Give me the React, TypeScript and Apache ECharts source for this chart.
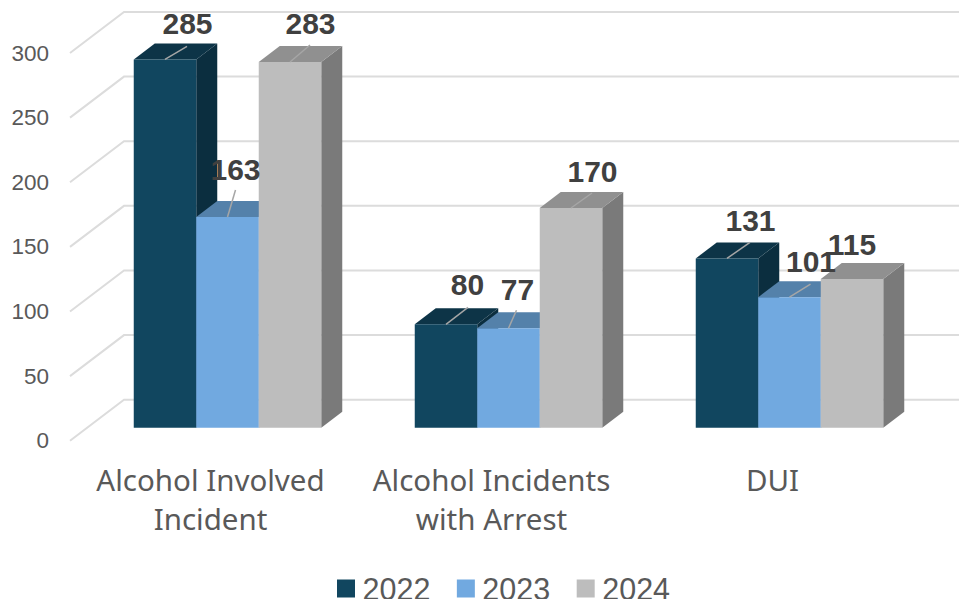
import React, { useEffect, useRef } from "react";
import * as echarts from "echarts";

const categories = ["Alcohol Involved\nIncident", "Alcohol Incidents\nwith Arrest", "DUI"];
const yearNames = ["2022", "2023", "2024"];
const values2022 = [285, 80, 131];
const values2023 = [163, 77, 101];
const values2024 = [283, 170, 115];
const yTicks = [0, 50, 100, 150, 200, 250, 300];
const valueSets = [values2022, values2023, values2024];

// face colours: front, top, side
const frontColors = ["#11465F", "#71A9E0", "#BDBDBD"];
const topColors = ["#0D3447", "#5481AA", "#909090"];
const sideColors = ["#0B2E3F", "#4A7499", "#7A7A7A"];

// label placement relative to the bar's top-front centre [dx, dy]
const labelOffsets = [
  [[22.5, -35.5], [21.5, -39.5], [23.5, -37.5]],
  [[8, -48], [9, -39], [21.5, -35.5]],
  [[20.5, -38.5], [21.5, -36.5], [0, -34.5]],
];
const leaderEnds = [
  [[22, -13], [22, -17], [23, -16]],
  [[8, -27], [8, -18], [21, -13]],
  [[20, -17], [21, -15], null],
];

const WALL_DX = 54;
const WALL_DY = -41;
const BAR_SHIFT_X = 17;
const BAR_SHIFT_Y = -13;
const BAR_W = 62.5;
const DEPTH_X = 21;
const DEPTH_Y = -16;

function barGeom(api: any, cat: number, val: number, idx: number) {
  const top = api.coord([cat, val]);
  const base = api.coord([cat, 0]);
  const l = top[0] + (idx - 1.5) * BAR_W + BAR_SHIFT_X;
  return { l, r: l + BAR_W, t: top[1] + BAR_SHIFT_Y, b: base[1] + BAR_SHIFT_Y };
}

export default function App() {
  const ref = useRef<HTMLDivElement>(null);

  useEffect(() => {
    const chart = echarts.init(ref.current!, undefined, { renderer: "svg" });

    const gridSeries: any = {
      type: "custom",
      silent: true,
      z: 1,
      data: yTicks.map((v) => [0, v]),
      encode: { x: 0, y: 1 },
      renderItem: (params: any, api: any) => {
        const v = api.value(1);
        const y = api.coord([0, v])[1];
        const sys = params.coordSys;
        return {
          type: "polyline",
          shape: {
            points: [
              [sys.x, y],
              [sys.x + WALL_DX, y + WALL_DY],
              [sys.x + sys.width + WALL_DX, y + WALL_DY],
            ],
          },
          style: { stroke: "#DCDCDC", lineWidth: 2, fill: "none" },
        };
      },
    };

    const barSeries: any[] = yearNames.map((name, idx) => ({
      type: "custom",
      name,
      silent: true,
      z: 2,
      itemStyle: { color: frontColors[idx] },
      data: valueSets[idx].map((v, i) => [i, v]),
      encode: { x: 0, y: 1 },
      renderItem: (_p: any, api: any) => {
        const g = barGeom(api, api.value(0), api.value(1), idx);
        return {
          type: "group",
          children: [
            {
              type: "polygon",
              shape: {
                points: [
                  [g.r, g.t],
                  [g.r + DEPTH_X, g.t + DEPTH_Y],
                  [g.r + DEPTH_X, g.b + DEPTH_Y],
                  [g.r, g.b],
                ],
              },
              style: { fill: sideColors[idx] },
            },
            {
              type: "polygon",
              shape: {
                points: [
                  [g.l, g.t],
                  [g.l + DEPTH_X, g.t + DEPTH_Y],
                  [g.r + DEPTH_X, g.t + DEPTH_Y],
                  [g.r, g.t],
                ],
              },
              style: { fill: topColors[idx] },
            },
            {
              type: "rect",
              shape: { x: g.l, y: g.t, width: BAR_W, height: g.b - g.t },
              style: { fill: frontColors[idx] },
            },
          ],
        };
      },
    }));

    const labelData: number[][] = [];
    valueSets.forEach((vals, idx) => vals.forEach((v, i) => labelData.push([i, v, idx])));

    const labelSeries: any = {
      type: "custom",
      silent: true,
      z: 3,
      data: labelData,
      encode: { x: 0, y: 1 },
      renderItem: (_p: any, api: any) => {
        const cat = api.value(0);
        const val = api.value(1);
        const idx = api.value(2);
        const g = barGeom(api, cat, val, idx);
        const cx = g.l + BAR_W / 2;
        const lo = labelOffsets[idx][cat];
        const le = leaderEnds[idx][cat];
        const children: any[] = [];
        if (le) {
          children.push({
            type: "line",
            shape: { x1: cx, y1: g.t, x2: cx + le[0], y2: g.t + le[1] },
            style: { stroke: "#A6A6A6", lineWidth: 1.5 },
          });
        }
        children.push({
          type: "text",
          style: {
            text: String(val),
            x: cx + lo[0],
            y: g.t + lo[1],
            align: "center",
            verticalAlign: "middle",
            font: 'bold 30px "Liberation Sans"',
            fill: "#404040",
          },
        });
        return { type: "group", children };
      },
    };

    chart.setOption({
      animation: false,
      backgroundColor: "#FFFFFF",
      grid: { left: 70, top: 53, width: 843, height: 387.7 },
      legend: {
        data: yearNames,
        left: 337,
        top: 573,
        padding: 0,
        icon: "rect",
        itemWidth: 18,
        itemHeight: 18,
        itemGap: 26.5,
        selectedMode: false,
        textStyle: {
          fontFamily: "Liberation Sans",
          fontSize: 30.5,
          color: "#595959",
          padding: [0, 0, 0, 2.5],
        },
      },
      xAxis: {
        type: "category",
        data: categories,
        axisLine: { show: false },
        axisTick: { show: false },
        axisLabel: {
          fontFamily: "Noto Sans",
          fontSize: 29.5,
          color: "#595959",
          lineHeight: 39,
          margin: 19,
          interval: 0,
        },
      },
      yAxis: {
        type: "value",
        min: 0,
        max: 300,
        interval: 50,
        axisLine: { show: false },
        axisTick: { show: false },
        splitLine: { show: false },
        axisLabel: {
          fontFamily: "Liberation Sans",
          fontSize: 22.5,
          color: "#595959",
          margin: 21,
        },
      },
      series: [gridSeries, ...barSeries, labelSeries],
    });

    return () => chart.dispose();
  }, []);

  return (
    <div
      ref={ref}
      style={{ position: "fixed", left: 0, top: 0, width: 959, height: 599 }}
    />
  );
}
